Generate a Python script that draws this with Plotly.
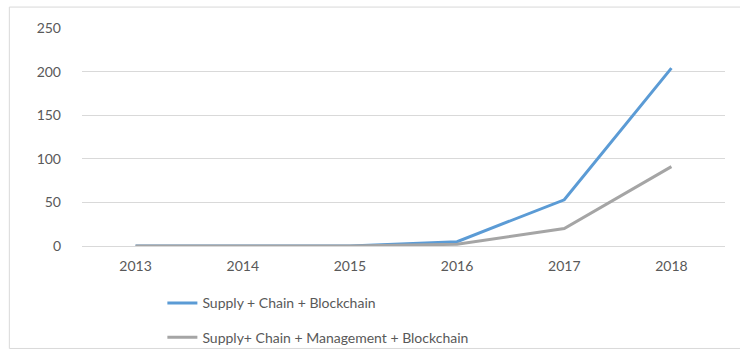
import plotly.graph_objects as go

years = ["2013", "2014", "2015", "2016", "2017", "2018"]
scb = [0, 0, 0, 5, 53, 204]
scmb = [0, 0, 0, 2, 20, 91]
names = ["Supply + Chain + Blockchain", "Supply+ Chain + Management + Blockchain"]

fig = go.Figure()
fig.add_trace(go.Scatter(x=years, y=scb, mode="lines", name=names[0], legendgroup="a",
                         line=dict(color="#5B9BD5", width=3)))
fig.add_trace(go.Scatter(x=years, y=scmb, mode="lines", name=names[1], legendgroup="b",
                         line=dict(color="#A5A5A5", width=3)))

fig.update_layout(
    width=740, height=356,
    margin=dict(l=82, r=15, t=28, b=110, autoexpand=False),
    paper_bgcolor="white", plot_bgcolor="white",
    font=dict(family="Lato", size=14, color="#595959"),
    showlegend=True,
    legend=dict(x=0.125, y=-0.19, xanchor="left", yanchor="top",
                orientation="v", tracegroupgap=13, bgcolor="rgba(0,0,0,0)",
                font=dict(size=14, color="#595959")),
    shapes=[dict(type="rect", xref="paper", yref="paper",
                 x0=-0.113, x1=1.05, y0=-0.47, y1=1.096,
                 line=dict(color="#D9D9D9", width=1))],
)
fig.update_xaxes(type="category", range=[-0.5, 5.5], showgrid=False, ticks="", showline=False,
                 ticklabelstandoff=10, tickfont=dict(size=14, color="#595959"))
fig.update_yaxes(range=[0, 250], dtick=50, showgrid=True, gridcolor="#D9D9D9",
                 gridwidth=1, zeroline=True, zerolinecolor="#D9D9D9", zerolinewidth=1,
                 ticklabelstandoff=20, tickfont=dict(size=14, color="#595959"))

fig.write_html("out.html")
